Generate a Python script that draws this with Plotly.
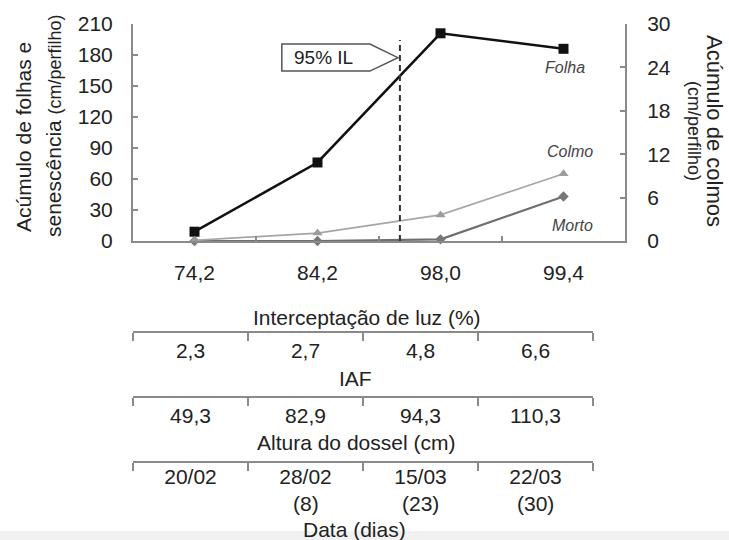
import plotly.graph_objects as go

# ---- data ----
IL = ["74,2", "84,2", "98,0", "99,4"]          # Interceptação de luz (%)
IAF = ["2,3", "2,7", "4,8", "6,6"]
ALTURA = ["49,3", "82,9", "94,3", "110,3"]     # Altura do dossel (cm)
DATA = ["20/02", "28/02", "15/03", "22/03"]
DIAS = ["", "(8)", "(23)", "(30)"]
FOLHA = [9, 76, 201, 186]       # left axis
MORTO = [0, 0, 1.6, 43]         # left axis
COLMO = [0.1, 1.1, 3.6, 9.3]    # right axis
IL95_POS = 1.67                 # category position of 95% IL

FONT = "Liberation Sans, Arial, sans-serif"
TXT = "#222222"
AX = "#8a8a8a"

W, H = 729, 540
ML, MR, MT, MB = 133, 104, 24, 78
PW, PH = W - ML - MR, H - MT - MB


def px(X):
    return (X - ML) / PW


def py(Y):
    return (H - MB - Y) / PH


fig = go.Figure()
for xa, vals in (("x2", IAF), ("x3", ALTURA), ("x4", DATA)):
    fig.add_trace(go.Scatter(x=vals, y=[0] * len(vals), xaxis=xa, yaxis="y", mode="markers",
                             marker=dict(opacity=0, size=1), showlegend=False, hoverinfo="skip"))
fig.add_trace(go.Scatter(x=IL, y=COLMO, mode="lines+markers", yaxis="y2", cliponaxis=False,
                         line=dict(color="#a6a6a6", width=1.8),
                         marker=dict(symbol="triangle-up", size=9, color="#9c9c9c"),
                         showlegend=False, hoverinfo="skip"))
fig.add_trace(go.Scatter(x=IL, y=MORTO, mode="lines+markers", yaxis="y", cliponaxis=False,
                         line=dict(color="#6e6e6e", width=2.2),
                         marker=dict(symbol="diamond", size=8, color="#777777"),
                         showlegend=False, hoverinfo="skip"))
fig.add_trace(go.Scatter(x=IL, y=FOLHA, mode="lines+markers", yaxis="y", cliponaxis=False,
                         line=dict(color="#111111", width=2.5),
                         marker=dict(symbol="square", size=10, color="#111111"),
                         showlegend=False, hoverinfo="skip"))

tickfont = dict(family=FONT, size=21, color=TXT)
common_y = dict(showline=True, linecolor=AX, linewidth=2, ticks="inside", ticklen=5,
                tickcolor=AX, tickwidth=1.5, showgrid=False, zeroline=False, tickfont=tickfont,
                fixedrange=True)
ydom = [py(241), 1]
layout = dict(
    width=W, height=H, margin=dict(l=ML, r=MR, t=MT, b=MB),
    paper_bgcolor="white", plot_bgcolor="rgba(0,0,0,0)",
    font=dict(family=FONT, color=TXT),
    xaxis=dict(type="category", categoryorder="array", categoryarray=IL, range=[-0.5, 3.5],
               tickson="boundaries", ticks="inside", ticklen=5, tickcolor=AX, tickwidth=1.5,
               showline=True, linecolor=AX, linewidth=2, showgrid=False, tickfont=tickfont,
               ticklabelstandoff=12, anchor="y", domain=[0, 1]),
    yaxis=dict(range=[0, 210], dtick=30, domain=ydom, anchor="x", ticklabelstandoff=14, **common_y),
    yaxis2=dict(range=[0, 30], dtick=6, overlaying="y", side="right", anchor="x",
                ticklabelstandoff=16, **common_y),
)
tab_dom = [0, px(593)]
for name, vals, Y, so in (("xaxis2", IAF, 332, 0), ("xaxis3", ALTURA, 397, 0),
                          ("xaxis4", DATA, 462, -4)):
    layout[name] = dict(type="category", categoryorder="array", categoryarray=vals,
                        range=[-0.5, 3.5], domain=tab_dom, anchor="free", position=py(Y),
                        tickson="boundaries", ticks="outside", ticklen=8, tickcolor=AX,
                        tickwidth=1.5, showline=True, linecolor=AX, linewidth=2.2,
                        showgrid=False, zeroline=False, tickfont=tickfont,
                        ticklabelstandoff=so)
fig.update_layout(**layout)

ann = []
def A(text, X, Y, size=21, angle=0, **kw):
    ann.append(dict(text=text, x=px(X), y=py(Y), xref="paper", yref="paper", showarrow=False,
                    textangle=angle, font=dict(family=FONT, size=size, color=TXT),
                    xanchor="center", yanchor="middle", **kw))

A("Interceptação de luz (%)", 367, 317)
A("IAF", 355, 378)
A("Altura do dossel (cm)", 356, 442)
A("Data (dias)", 354, 529)
A("Acúmulo de folhas e", 23, 137, angle=-90)
A("senescência <span style='font-size:18px'>(cm/perfilho)</span>", 53, 126, angle=-90)
A("Acúmulo de colmos", 715, 131, size=22, angle=90)
A("(cm/perfilho)", 694, 131, size=18, angle=90)

# days under the dates (second line of the Data row)
for c, t in zip(DATA, DIAS):
    if t:
        ann.append(dict(text=t, x=c, xref="x4", y=py(503), yref="paper", showarrow=False,
                        font=dict(family=FONT, size=21, color=TXT), yanchor="middle"))

lab = dict(family=FONT, size=16, color="#444444")
ann.append(dict(text="<i>Folha</i>", x=IL[3], y=FOLHA[3], xref="x", yref="y", showarrow=False,
                yshift=-19, xshift=1, font=lab))
ann.append(dict(text="<i>Colmo</i>", x=IL[3], y=COLMO[3], xref="x", yref="y2", showarrow=False,
                yshift=22, xshift=6, font=lab))
ann.append(dict(text="<i>Morto</i>", x=IL[3], y=MORTO[3], xref="x", yref="y", showarrow=False,
                yshift=-29, xshift=9, font=lab))

d = (IL95_POS + 0.5) / 4.0
ann.append(dict(text="95% IL", x=d - 0.155, y=py(57.5), xref="x domain", yref="paper",
                yanchor="middle", showarrow=False, font=dict(family=FONT, size=19, color=TXT)))
fig.update_layout(annotations=ann)

shapes = [
    dict(type="line", xref="x", yref="y domain", x0=IL95_POS, x1=IL95_POS, y0=0, y1=0.926,
         line=dict(color="#333333", width=2, dash="6px,4px")),
    dict(type="path", xref="x domain", yref="y domain",
         path=f"M {d-0.240} 0.908 L {d-0.061} 0.908 L {d-0.004} 0.845 L {d-0.061} 0.783 L {d-0.240} 0.783 Z",
         line=dict(color="#555555", width=1.5), fillcolor="white"),
    dict(type="rect", xref="paper", yref="paper", x0=px(0), x1=px(W), y0=py(540), y1=py(531),
         fillcolor="#f1f1f1", line=dict(width=0), layer="below"),
]
fig.update_layout(shapes=shapes)

fig.write_html("out.html")
